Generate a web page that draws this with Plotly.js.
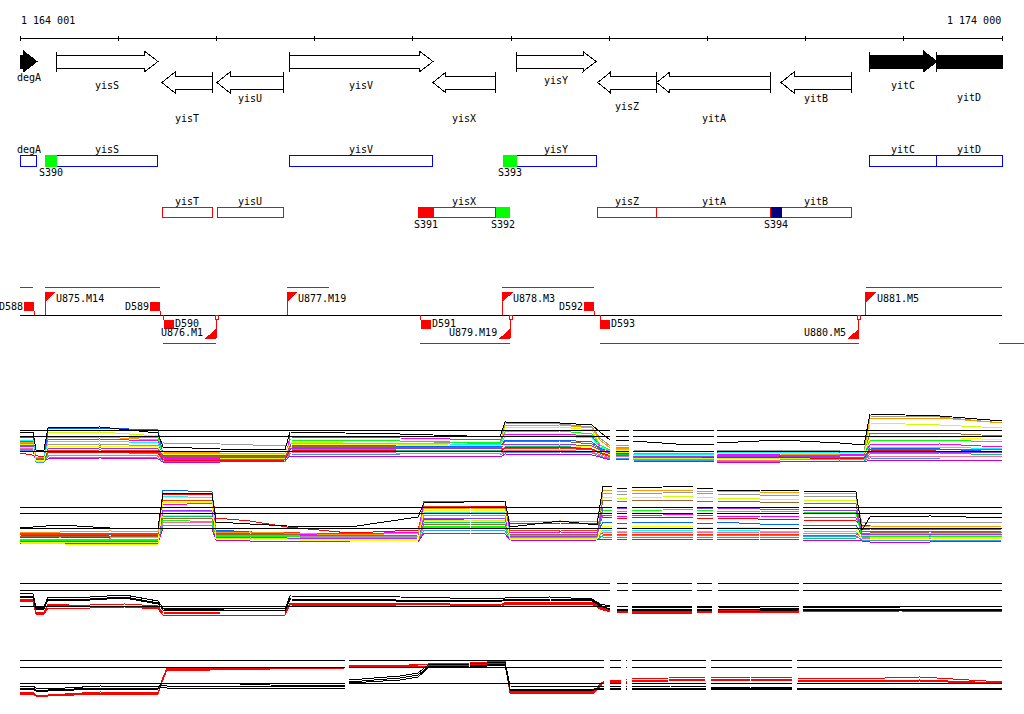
<!DOCTYPE html>
<html><head><meta charset="utf-8">
<script src="https://cdn.plot.ly/plotly-3.0.1.min.js"></script>
<style>
html,body{margin:0;padding:0;background:#fff;}
#chart{width:1024px;height:714px;}
.js-plotly-plot .scatterlayer path,.js-plotly-plot .shapelayer path{shape-rendering:crispEdges;}
</style></head><body><div id="chart"></div>
<script>
// ================= DATA =================
const windowStart = 1164001, windowEnd = 1174000;

// genes
const geneNames   = ['degA','yisS','yisT','yisU','yisV','yisX','yisY','yisZ','yitA','yitB','yitC','yitD'];
const geneStarts  = [1163170,1164375,1165447,1166007,1166740,1168206,1169059,1169883,1170484,1171750,1172646,1173338];
const geneEnds    = [1164174,1165406,1165956,1166679,1168206,1168845,1169866,1170484,1171645,1172470,1173338,1174180];
const geneStrands = ['+','+','-','-','+','-','+','-','-','-','+','+'];

// regulatory sites
const siteNames   = ['S390','S391','S392','S393','S394'];
const siteStarts  = [1164256,1168054,1168845,1168922,1171645];
const siteEnds    = [1164375,1168217,1168990,1169059,1171757];
const siteStrands = ['+','-','-','+','-'];

// transcription units ('' = unit continuing outside the window)
const unitNames   = ['','U875.M14','U876.M1','U877.M19','U879.M19','U878.M3','U880.M5','U881.M5',''];
const unitStarts  = [1164001,1164256,1165457,1166720,1168074,1168913,1169907,1172615,1173970];
const unitEnds    = [1164133,1165427,1165997,1167147,1168991,1169846,1172541,1174000,1174600];
const unitStrands = ['+','+','-','+','-','+','-','+','-'];

// terminators
const termNames   = ['D588','D589','D590','D591','D592','D593'];
const termPos     = [1164144,1165427,1165467,1168084,1169846,1169907];
const termStrands = ['+','+','-','-','+','-'];

// expression panel 1 (probe positions, missing stretches, profiles)
const p1Probes = [1164001,1164133,1164164,1164245,1164286,1164816,1165406,1165457,1166038,1166699,1166750,1167870,1168889,1168940,1169500,1169825,1169907,1170010,1170071,1170202,1170243,1170823,1171068,1171098,1171740,1172350,1172595,1172656,1173369,1173999];
const p1Gaps = [[1170010,1170071],[1170202,1170243],[1171068,1171098]];
const p1Ref = [3.97,3.37,1.83];
const p1Values = [
 [2.2,2.2,0.9,0.9,1.5,1.5,1.4,1.1,1.0,1.0,1.8,1.7,1.6,2.0,2.0,1.8,1.5,1.2,1.4,1.4,1.1,1.1,1.0,1.0,1.0,1.1,1.0,1.4,1.4,1.3],
 [2.0,2.0,0.8,0.8,1.3,1.2,1.3,0.9,0.9,0.8,1.6,1.5,1.5,1.8,1.8,1.7,1.4,1.1,1.2,1.2,1.0,0.9,0.9,0.9,0.9,0.8,0.9,1.2,1.1,1.1],
 [2.1,2.1,1.0,1.0,1.7,1.8,1.6,1.3,1.2,1.2,2.1,2.0,1.9,2.3,2.4,2.1,1.8,1.4,1.6,1.6,1.2,1.3,1.2,1.1,1.2,1.1,1.1,1.6,1.7,1.5],
 [1.9,1.9,1.1,1.1,1.1,1.2,1.1,0.8,0.8,0.9,1.4,1.4,1.3,1.6,1.5,1.5,1.3,1.0,1.1,1.1,0.9,0.8,0.9,0.8,0.8,0.9,0.8,1.0,1.0,0.9],
 [2.4,2.4,0.9,0.9,1.9,2.0,1.9,1.1,1.1,1.0,2.3,2.2,2.1,2.1,2.2,2.0,1.7,1.3,1.5,1.5,1.3,1.2,1.3,1.3,1.3,1.2,1.3,2.1,2.1,2.0],
 [3.0,2.9,1.2,1.2,2.5,2.6,2.4,2.7,2.6,2.4,3.0,2.9,2.6,4.7,4.6,4.3,3.2,2.4,2.5,2.4,2.0,1.9,1.8,2.0,2.0,1.9,1.8,5.4,5.3,4.7],
 [2.8,2.8,1.0,1.0,3.2,3.3,3.0,1.8,1.7,1.6,2.5,2.4,2.3,4.4,4.5,4.2,3.0,2.2,2.2,2.1,1.4,1.5,1.4,1.5,1.6,1.5,1.5,5.2,5.2,4.7],
 [2.6,2.6,0.9,0.9,3.7,3.8,3.4,1.2,1.2,1.1,2.8,2.6,2.4,4.2,4.3,4.0,2.5,1.8,1.8,1.7,1.2,1.2,1.1,1.2,1.2,1.1,1.2,4.7,4.5,4.2],
 [2.7,2.7,1.0,1.0,3.4,3.4,3.2,1.5,1.4,1.4,3.0,2.9,2.7,3.8,3.9,3.6,2.5,2.0,2.3,2.2,1.7,1.6,1.7,1.4,1.4,1.5,1.4,3.0,3.0,2.8],
 [2.9,2.9,1.2,1.2,3.0,3.1,2.9,1.2,1.1,1.1,3.3,3.2,3.0,3.6,3.6,3.4,2.3,1.8,2.0,1.9,1.5,1.4,1.5,1.6,1.5,1.5,1.6,2.5,2.6,2.3],
 [1.7,1.5,1.4,1.3,1.8,1.8,1.7,1.0,0.9,1.0,2.0,1.9,1.8,2.2,2.3,2.1,1.7,1.5,1.7,1.6,1.3,1.4,1.2,1.2,1.3,1.1,1.2,2.0,1.9,1.8],
 [3.3,3.3,1.1,1.1,4.2,4.2,4.0,1.5,1.5,1.4,2.5,2.4,2.3,3.0,3.0,2.8,2.2,1.6,2.0,1.9,1.5,1.4,1.4,1.8,1.8,1.7,1.8,2.2,2.1,1.8],
 [3.0,3.0,1.3,1.3,2.8,2.9,2.7,1.7,1.7,1.6,2.7,2.7,2.5,3.4,3.4,3.2,2.3,1.9,2.1,2.0,1.6,1.6,1.5,1.8,1.7,1.8,1.7,2.3,2.3,2.1],
 [2.5,2.5,1.2,1.2,2.3,2.4,2.3,1.4,1.4,1.3,2.4,2.3,2.2,2.8,2.9,2.6,2.1,1.7,2.0,1.9,1.4,1.4,1.4,1.5,1.5,1.4,1.5,3.7,3.7,3.4],
 [2.4,2.4,1.1,1.1,2.1,2.2,2.1,1.3,1.3,1.2,2.2,2.2,2.1,2.6,2.6,2.4,2.0,1.6,1.9,1.8,1.4,1.3,1.4,1.3,1.4,1.3,1.3,1.8,1.8,1.7],
 [2.3,2.3,1.0,1.0,2.4,2.4,2.3,1.6,1.6,1.5,2.6,2.5,2.4,2.4,2.5,2.3,1.9,1.5,2.0,1.9,1.5,1.5,1.5,1.7,1.7,1.6,1.7,3.2,3.3,3.0],
 [3.8,3.8,2.0,2.0,4.2,4.3,3.7,2.3,2.1,2.0,3.8,3.6,3.3,4.8,4.7,4.5,3.8,3.0,3.0,2.9,2.9,2.5,2.6,2.7,3.0,2.7,2.5,5.6,5.4,4.9]
];

// expression panel 2
const p2Probes = [1164001,1164408,1164918,1165406,1165457,1165732,1165956,1165997,1166343,1166720,1167361,1168054,1168115,1168583,1168940,1168991,1169500,1169876,1169937,1170029,1170080,1170182,1170233,1170569,1170854,1170894,1171057,1171098,1171536,1171933,1171974,1172513,1172574,1172656,1173267,1173999];
const p2Gaps = [[1170029,1170080],[1170182,1170233],[1170854,1170894],[1171057,1171098],[1171933,1171974]];
const p2Ref = [4.27,3.67,2.17];
const p2Values = [
 [1.1,1.0,1.1,1.0,2.8,2.8,2.7,1.3,1.2,1.2,1.0,1.1,2.3,2.3,2.2,1.3,1.2,1.3,1.8,1.8,1.8,1.7,1.7,1.8,1.8,1.8,1.7,1.7,1.8,1.8,1.7,1.7,1.2,1.2,1.1,1.2],
 [0.9,0.9,0.8,0.9,2.5,2.5,2.4,1.1,1.1,1.0,0.9,0.9,2.0,2.0,1.9,1.1,1.1,1.0,1.5,1.5,1.5,1.4,1.4,1.5,1.5,1.5,1.4,1.4,1.5,1.5,1.4,1.4,1.0,1.0,0.9,1.0],
 [1.3,1.3,1.3,1.3,3.4,3.4,3.3,1.4,1.4,1.3,1.2,1.3,2.8,2.8,2.7,1.4,1.4,1.4,1.3,1.3,1.3,1.2,1.2,1.3,1.3,1.3,1.2,1.2,1.3,1.3,1.2,1.2,1.4,1.4,1.3,1.4],
 [0.7,0.7,0.7,0.7,2.2,2.2,2.1,1.0,0.9,0.9,0.8,0.8,1.7,1.7,1.6,1.0,0.9,1.0,1.1,1.1,1.1,1.0,1.0,1.1,1.1,1.1,1.0,1.0,1.1,1.1,1.0,1.0,0.9,0.8,0.8,0.9],
 [1.6,1.6,1.5,1.6,5.0,5.0,4.9,1.9,1.8,1.7,1.6,1.7,4.4,4.4,4.3,2.0,2.0,1.9,1.6,1.6,1.6,1.5,1.5,1.6,1.6,1.6,1.5,1.5,1.6,1.6,1.5,1.5,1.9,1.9,1.8,1.9],
 [1.5,1.4,1.5,1.4,6.0,5.9,5.8,2.0,1.8,1.6,1.5,1.7,3.0,3.1,3.2,1.7,1.8,1.7,2.8,2.8,2.7,2.7,2.7,2.8,2.8,2.7,2.7,2.8,2.6,2.6,2.5,2.5,1.5,1.5,1.6,1.5],
 [1.3,1.3,1.2,1.3,5.4,5.3,5.2,1.8,1.6,1.5,1.2,1.4,3.8,3.8,3.7,1.5,1.5,1.4,2.0,2.0,1.9,1.9,1.9,2.0,2.0,1.9,1.9,2.0,1.9,1.9,1.9,1.8,1.7,1.7,1.6,1.7],
 [1.2,1.3,1.2,1.2,5.5,5.6,5.6,3.2,2.9,2.3,1.7,2.0,4.3,4.3,4.4,2.7,2.7,2.6,3.3,3.3,3.2,3.2,3.2,3.3,3.3,3.2,3.2,3.2,3.1,3.0,3.0,2.9,2.5,2.4,2.3,2.4],
 [1.7,1.7,1.6,1.7,4.5,4.6,4.7,1.7,1.7,1.6,1.6,1.8,4.9,4.9,4.8,1.8,1.8,1.7,3.5,3.5,3.4,3.4,3.4,3.5,3.6,3.5,3.4,3.4,3.4,3.3,3.3,3.2,2.0,2.1,2.0,2.1],
 [1.8,1.8,1.9,1.8,4.2,4.3,4.3,1.7,1.8,1.7,1.5,1.7,4.2,4.2,4.1,2.8,2.9,2.8,6.0,6.0,5.9,5.9,5.9,6.0,6.0,5.9,5.9,5.9,5.8,5.8,5.7,5.6,2.3,2.4,2.3,2.4],
 [1.1,1.1,1.1,1.1,3.8,3.9,3.9,1.5,1.5,1.4,1.3,1.4,3.5,3.5,3.4,1.5,1.5,1.5,5.7,5.7,5.6,5.6,5.6,5.7,5.8,5.7,5.6,5.6,5.5,5.5,5.4,5.3,2.7,2.8,2.8,2.7],
 [0.7,0.6,0.5,0.6,3.5,3.5,3.4,1.2,1.2,1.1,1.0,1.1,3.0,3.0,2.9,1.2,1.2,1.2,5.3,5.3,5.2,5.2,5.2,5.3,5.4,5.3,5.2,5.2,5.1,5.1,5.0,4.9,1.4,1.5,1.5,1.4],
 [1.4,1.4,1.4,1.4,3.2,3.2,3.1,1.6,1.6,1.5,1.4,1.5,2.6,2.6,2.5,1.6,1.6,1.6,5.0,5.0,4.9,4.9,4.9,5.0,5.0,4.9,4.9,4.9,4.8,4.8,4.7,4.6,1.7,1.7,1.8,1.7],
 [1.0,1.0,0.9,1.0,3.0,2.9,2.9,1.4,1.4,1.3,1.2,1.3,2.4,2.4,2.3,1.3,1.3,1.3,4.0,4.0,3.9,3.9,3.9,4.0,4.1,4.0,3.9,3.9,3.9,3.8,3.8,3.7,1.3,1.3,1.4,1.3],
 [0.9,0.9,0.9,0.9,4.0,4.0,4.0,1.3,1.3,1.2,1.1,1.2,3.2,3.2,3.1,1.4,1.4,1.4,4.3,4.3,4.2,4.2,4.2,4.3,4.3,4.2,4.2,4.2,4.1,4.1,4.0,4.0,1.6,1.6,1.6,1.6],
 [0.8,0.8,0.7,0.8,4.8,4.8,4.7,1.1,1.1,1.0,0.9,1.0,4.0,4.0,3.9,1.1,1.1,1.1,2.4,2.4,2.3,2.3,2.3,2.4,2.4,2.3,2.3,2.3,2.2,2.2,2.2,2.1,1.1,1.1,1.2,1.1],
 [2.2,2.5,2.2,2.2,5.7,5.7,5.6,2.8,2.6,2.4,2.3,3.3,4.7,4.8,4.9,2.3,2.9,2.5,6.4,6.3,6.2,6.2,6.2,6.3,6.4,6.2,6.1,6.0,6.0,5.9,5.9,5.8,2.0,3.3,3.4,3.2]
];

// expression panel 3
const p3Probes = [1164001,1164133,1164164,1164245,1164286,1164714,1165070,1165406,1165457,1166038,1166699,1166750,1167870,1168889,1168940,1169398,1169825,1169907,1170010,1170080,1170192,1170233,1170844,1170894,1171047,1171108,1171536,1171933,1171974,1172962,1173999];
const p3Gaps = [[1170010,1170080],[1170192,1170233],[1170844,1170894],[1171047,1171108],[1171933,1171974]];
const p3Ref = [3.67,2.97,1.37];
const p3Values = [
 [2.0,2.0,0.7,0.7,1.5,1.5,1.6,1.4,0.7,0.6,0.6,1.7,1.7,1.5,1.7,1.7,1.7,1.2,0.9,0.9,0.9,0.8,0.8,0.8,0.9,0.9,0.9,0.9,0.9,1.0,0.9],
 [1.9,1.9,0.6,0.6,1.2,1.2,1.3,1.1,0.5,0.5,0.5,1.5,1.4,1.3,1.6,1.6,1.6,1.1,0.8,0.8,0.8,0.7,0.7,0.7,0.8,0.8,0.8,0.8,0.8,0.9,0.8],
 [2.1,2.1,0.8,0.8,1.6,1.4,1.4,1.2,0.8,0.7,0.7,1.6,1.6,1.4,1.8,1.8,1.8,1.3,1.0,1.0,1.0,0.9,0.9,0.9,1.0,1.0,1.0,1.0,1.0,1.0,1.0],
 [2.7,2.6,1.3,1.3,2.3,2.3,2.5,1.9,1.2,1.2,1.1,2.4,2.3,2.1,2.2,2.3,2.1,1.6,1.4,1.4,1.3,1.3,1.3,1.3,1.3,1.3,1.2,1.2,1.3,1.3,1.4],
 [2.4,2.4,1.1,1.1,2.1,2.1,2.3,1.7,1.0,1.0,1.0,2.1,2.0,1.9,2.0,2.0,1.9,1.4,1.1,1.1,1.1,1.1,1.1,1.1,1.1,1.1,1.1,1.1,1.1,1.1,1.1],
 [2.3,2.3,1.2,1.2,2.0,2.0,2.2,1.6,1.1,1.0,0.9,2.0,1.9,1.8,2.1,2.1,2.0,1.5,1.0,1.0,1.0,1.0,1.0,1.0,1.0,0.9,0.9,1.0,1.0,1.0,1.0]
];

// expression panel 4
const p4Probes = [1164001,1164133,1164164,1164286,1164816,1165406,1165447,1165498,1165936,1166547,1167310,1167351,1167870,1168054,1168155,1168583,1168940,1168991,1169500,1169846,1169907,1169948,1170010,1170121,1170172,1170182,1170233,1170620,1170986,1171037,1171434,1171862,1171913,1172452,1173165,1173999];
const p4Gaps = [[1167310,1167351],[1169948,1170010],[1170121,1170172],[1170182,1170233],[1170986,1171037],[1171862,1171913]];
const p4Ref = [4.0,3.27,1.67];
const p4Values = [
 [0.8,0.8,0.5,0.5,0.8,0.7,2.0,3.2,3.2,3.2,3.3,3.4,3.5,3.5,3.5,3.6,3.8,0.8,0.7,0.8,1.6,1.9,1.9,2.0,2.1,2.1,2.1,2.2,2.3,2.3,2.3,2.2,2.2,2.1,2.3,1.8],
 [0.6,0.6,0.4,0.4,0.6,0.6,1.8,3.0,3.0,3.1,3.1,3.3,3.3,3.4,3.4,3.5,3.7,0.7,0.6,0.7,1.4,1.8,1.8,1.9,1.9,1.9,1.9,2.0,2.1,2.1,2.1,2.0,2.0,1.9,2.0,1.7],
 [0.7,0.7,0.5,0.5,0.7,0.7,1.9,3.1,3.1,3.1,3.2,3.4,3.4,3.5,3.6,3.7,3.9,0.9,0.8,0.9,1.5,1.7,1.7,1.8,1.8,1.8,1.8,1.9,2.0,2.0,2.0,1.9,1.9,1.8,1.9,1.6],
 [1.4,1.4,1.2,1.1,1.4,1.3,1.7,1.7,1.7,1.5,1.4,2.0,2.4,2.7,3.5,3.6,3.8,1.4,1.3,1.3,1.4,1.4,1.4,1.4,1.4,1.4,1.4,1.4,1.3,1.3,1.3,1.2,1.2,1.2,1.2,1.2],
 [1.2,1.2,1.0,1.0,1.2,1.2,1.5,1.4,1.4,1.4,1.3,1.8,2.2,2.5,3.3,3.4,3.6,1.1,1.1,1.1,1.2,1.2,1.2,1.2,1.2,1.2,1.2,1.2,1.2,1.2,1.2,1.2,1.2,1.2,1.2,1.2],
 [1.1,1.1,0.9,0.9,1.1,1.1,1.3,1.2,1.2,1.2,1.2,1.7,2.0,2.3,3.2,3.3,3.5,1.0,1.0,1.0,1.1,1.1,1.1,1.1,1.1,1.1,1.1,1.1,1.1,1.1,1.1,1.1,1.1,1.1,1.1,1.1]
];

// ================= STYLE / LAYOUT =================
const W = 1024, H = 714;
const WIN_L_PX = 20, WIN_R_PX = 1002;
const BPX = (windowEnd - windowStart) / (WIN_R_PX - WIN_L_PX);  // bp per pixel
const X0 = windowStart - WIN_L_PX * BPX, X1 = X0 + W * BPX;
const FONT = 'DejaVu Sans Mono';
const solidGenes = ['degA','yitC','yitD'];
const geneLabelY = {degA:77,yisS:85,yisT:118,yisU:98,yisV:85,yisX:118,yisY:80,yisZ:106,yitA:118,yitB:98,yitC:85,yitD:97};
const siteColor = {S390:'#00ff00',S391:'#ff0000',S392:'#00ff00',S393:'#00ff00',S394:'#000080'};
const extraColors = ['#ff6699','#3399ff','#00cc66','#cc00cc','#ff3300'];
const colorsP1 = extraColors.concat(['#999999','#ff9900','#ccff00','#00ff00','#ff00ff','#ff0000','#0066ff','#00ffff','#996633','#9933ff','#ffff00','#000000']);
const colorsP2 = extraColors.concat(['#0066ff','#00ffff','#ff0000','#ff00ff','#ff9900','#999999','#ccff00','#996633','#00ff00','#9933ff','#ffff00','#000000']);
const colors6 = ['#ff0000','#ff0000','#ff0000','#000000','#000000','#000000'];
const RED = '#ff0000';

const shapes = [], ann = [];
function line(x0,y0,x1,y1,color){ shapes.push({type:'line',xref:'x',yref:'y',x0,y0,x1,y1,line:{color,width:1}}); }
function rect(x0,y0,x1,y1,stroke,fill){ shapes.push({type:'rect',xref:'x',yref:'y',x0,y0,x1,y1,line:{color:stroke||'rgba(0,0,0,0)',width:stroke?1:0},fillcolor:fill||'rgba(0,0,0,0)'}); }
function poly(pts,stroke,fill){ shapes.push({type:'path',xref:'x',yref:'y',path:'M'+pts.map(p=>p[0]+','+p[1]).join(' L')+' Z',line:{color:stroke||'rgba(0,0,0,0)',width:stroke?1:0},fillcolor:fill}); }
function label(x,y,text,anchor){ ann.push({xref:'x',yref:'y',x,y,text,showarrow:false,xanchor:anchor||'center',yanchor:'middle',borderpad:0,font:{family:FONT,size:10,color:'#000'}}); }
const fmt = n => String(n).replace(/\B(?=(\d{3})+(?!\d))/g,' ');

// ruler
line(windowStart,38,windowEnd,38,'#000');
for (let t=windowStart; t<=windowEnd+1; t+=1000) line(Math.min(t,windowEnd),35.5,Math.min(t,windowEnd),40.5,'#000');
label(windowStart,20,fmt(windowStart),'left');
label(windowEnd,20,fmt(windowEnd),'right');

// gene glyphs
const FWD = {bt:55,bb:68,ht:51.5,hb:71.5}, REV = {bt:76,bb:89,ht:72,hb:93};
const HEAD = 13*BPX;
geneNames.forEach((g,i)=>{
  const s0=geneStarts[i], e0=geneEnds[i];
  const s=Math.max(s0,windowStart), e=Math.min(e0,windowEnd);
  const fill = solidGenes.includes(g)?'#000000':'#ffffff';
  let pts;
  if (geneStrands[i]==='+'){
    const T=FWD, hasHead=e0<=windowEnd, hs=hasHead?Math.max(s,e-HEAD):e;
    pts=[[s,T.bt],[hs,T.bt]];
    if (hasHead) pts.push([hs,T.ht],[e,(T.ht+T.hb)/2],[hs,T.hb]);
    pts.push([hs,T.bb],[s,T.bb]);
    poly(pts,'#000000',fill);
    if (s0>=windowStart) line(s,T.ht,s,T.hb,'#000');
  } else {
    const T=REV, hasHead=s0>=windowStart, hs=hasHead?Math.min(e,s+HEAD):s;
    pts=[[e,T.bt],[hs,T.bt]];
    if (hasHead) pts.push([hs,T.ht],[s,(T.ht+T.hb)/2],[hs,T.hb]);
    pts.push([hs,T.bb],[e,T.bb]);
    poly(pts,'#000000',fill);
    if (e0<=windowEnd) line(e,T.ht,e,T.hb,'#000');
  }
  label((s+e)/2,geneLabelY[g],g);
});

// gene boxes + sites
geneNames.forEach((g,i)=>{
  const s=Math.max(geneStarts[i],windowStart), e=Math.min(geneEnds[i],windowEnd);
  const fwd=geneStrands[i]==='+';
  if (fwd){ rect(s,155,e,166,'#0000ff',null); label((s+e)/2,149,g); }
  else { rect(s,207,e,217.5,RED,null); label((s+e)/2,201,g); }
});
siteNames.forEach((n,i)=>{
  const fwd=siteStrands[i]==='+';
  const y0=fwd?155:207, y1=fwd?166.5:218;
  rect(siteStarts[i],y0,siteEnds[i],y1,null,siteColor[n]);
  label((siteStarts[i]+siteEnds[i])/2,fwd?172:224,n);
});

// transcription units
line(windowStart,315,windowEnd,315,'#000');
unitNames.forEach((n,i)=>{
  const fwd=unitStrands[i]==='+';
  const s=Math.max(unitStarts[i],windowStart), e=unitEnds[i];
  line(s,fwd?287:343,e,fwd?287:343,RED);
  if (!n) return;
  if (fwd){
    line(s,315,s,292,RED);
    poly([[s,292],[s+11*BPX,292],[s,302]],null,RED);
    label(s+10*BPX,298,n,'left');
  } else {
    line(e,315,e,338,RED);
    rect(e-1*BPX,315,e+2*BPX,319,RED,'#ffffff');
    poly([[e,338.5],[e-11*BPX,338.5],[e,329]],null,RED);
    label(e-12*BPX,332,n,'right');
  }
});
termNames.forEach((n,i)=>{
  const p=termPos[i];
  if (termStrands[i]==='+'){
    rect(p-10*BPX,302,p,311,null,RED);
    line(p,311,p,315,RED);
    label(p-10.5*BPX,306,n,'right');
  } else {
    rect(p,320,p+10*BPX,329,null,RED);
    line(p,315,p,320,RED);
    label(p+10*BPX,323,n,'left');
  }
});

// expression panels
function withGaps(xs, ys, gaps){
  const X=[],Y=[];
  for (let i=0;i<xs.length;i++){
    if (i>0 && gaps.some(g=>xs[i-1]<=g[0] && xs[i]>=g[1])){ X.push(null); Y.push(null); }
    X.push(xs[i]); Y.push(ys[i]);
  }
  return [X,Y];
}
const panels = [
  {x:p1Probes,gaps:p1Gaps,vals:p1Values,colors:colorsP1,ref:p1Ref,top:405,bottom:470},
  {x:p2Probes,gaps:p2Gaps,vals:p2Values,colors:colorsP2,ref:p2Ref,top:480,bottom:550},
  {x:p3Probes,gaps:p3Gaps,vals:p3Values,colors:colors6,ref:p3Ref,top:575,bottom:620},
  {x:p4Probes,gaps:p4Gaps,vals:p4Values,colors:colors6,ref:p4Ref,top:650,bottom:700}
];
const traces=[], refTraces=[];
const layout = {
  width:W,height:H,margin:{l:0,r:0,t:0,b:0,pad:0},
  paper_bgcolor:'#ffffff',plot_bgcolor:'rgba(0,0,0,0)',
  showlegend:false,hovermode:false,
  xaxis:{range:[X0,X1],visible:false,fixedrange:true,anchor:'y'},
  yaxis:{range:[H,0],domain:[0,1],visible:false,fixedrange:true,anchor:'x'},
  shapes, annotations:ann
};
panels.forEach((p,k)=>{
  const ya='y'+(k+2);
  layout['yaxis'+(k+2)]={domain:[1-p.bottom/H,1-p.top/H],range:[0,(p.bottom-p.top)/10],visible:false,fixedrange:true,anchor:'x'};
  p.vals.forEach((v,j)=>{
    const [X,Y]=withGaps(p.x,v,p.gaps);
    traces.push({type:'scatter',mode:'lines',x:X,y:Y,xaxis:'x',yaxis:ya,line:{color:p.colors[j],width:1},hoverinfo:'skip',connectgaps:false});
  });
  p.ref.forEach(r=>{
    const [X,Y]=withGaps(p.x,p.x.map(()=>r),p.gaps);
    refTraces.push({type:'scatter',mode:'lines',x:X,y:Y,xaxis:'x',yaxis:ya,line:{color:'#000000',width:1},hoverinfo:'skip',connectgaps:false});
  });
});
traces.unshift({type:'scatter',mode:'markers',x:[X0],y:[0],xaxis:'x',yaxis:'y',marker:{opacity:0},hoverinfo:'skip'});

Plotly.newPlot('chart',traces.concat(refTraces),layout,{displayModeBar:false,staticPlot:true});
</script></body></html>
